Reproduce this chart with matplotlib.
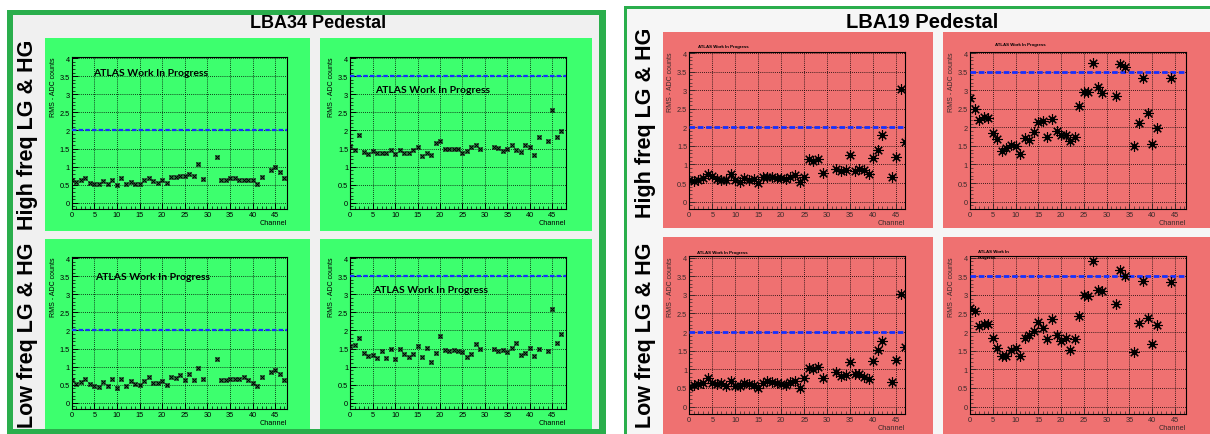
import numpy as np
import matplotlib
matplotlib.use("Agg")
import matplotlib.pyplot as plt
from matplotlib.patches import Rectangle
from matplotlib.ticker import MultipleLocator

plt.rcParams['font.family'] = ['Liberation Sans', 'DejaVu Sans']

# ---------------- data ----------------
channels = list(range(48))
N = None

lba34_high_lg = [0.64, 0.59, 0.64, 0.68, 0.54, 0.52, 0.52, 0.61, 0.51, 0.64, 0.48, 0.69,
                 0.51, 0.59, 0.52, 0.51, 0.64, 0.68, 0.60, 0.55, 0.64, 0.54, 0.71, 0.71,
                 0.74, 0.73, 0.80, 0.74, 1.08, 0.65, N, N, 1.26, 0.63, 0.64, 0.70,
                 0.68, 0.64, 0.64, 0.64, 0.64, 0.52, 0.71, N, 0.92, 1.00, 0.84, 0.69]
lba34_high_hg = [1.57, 1.45, 1.88, 1.41, 1.35, 1.42, 1.38, 1.39, 1.37, 1.46, 1.35, 1.47,
                 1.39, 1.39, 1.47, 1.55, 1.29, 1.38, 1.31, 1.66, 1.72, 1.48, 1.48, 1.48,
                 1.48, 1.39, 1.43, 1.54, 1.59, 1.48, N, N, 1.55, 1.51, 1.44, 1.50,
                 1.60, 1.46, 1.40, 1.61, 1.55, 1.33, 1.81, N, 1.70, 2.58, 1.83, 1.98]
lba34_low_lg = [0.63, 0.53, 0.58, 0.67, 0.53, 0.46, 0.44, 0.59, 0.47, 0.66, 0.40, 0.66,
                0.46, 0.61, 0.51, 0.48, 0.60, 0.71, 0.55, 0.56, 0.60, 0.50, 0.72, 0.70,
                0.78, 0.64, 0.79, 0.64, 0.97, 0.67, N, N, 1.21, 0.62, 0.64, 0.67,
                0.66, 0.66, 0.71, 0.64, 0.55, 0.46, 0.71, N, 0.86, 0.90, 0.81, 0.64]
lba34_low_hg = [1.56, 1.60, 1.78, 1.38, 1.29, 1.32, 1.23, 1.43, 1.24, 1.49, 1.20, 1.50,
                1.36, 1.27, 1.36, 1.57, 1.26, 1.52, 1.12, 1.38, 1.85, 1.45, 1.44, 1.47,
                1.43, 1.41, 1.28, 1.35, 1.63, 1.49, N, N, 1.49, 1.42, 1.47, 1.41,
                1.51, 1.66, 1.33, 1.38, 1.53, 1.29, 1.49, N, 1.44, 2.60, 1.65, 1.90]

lba19_high_lg = [0.57, 0.55, 0.57, 0.63, 0.73, 0.68, 0.62, 0.57, 0.58, 0.73, 0.57, 0.54,
                 0.63, 0.57, 0.61, 0.49, 0.66, 0.65, 0.65, 0.64, 0.64, 0.61, 0.65, 0.72,
                 0.52, 0.67, 1.14, 1.10, 1.15, 0.77, N, N, 0.88, 0.81, 0.85, 1.26,
                 0.81, 0.89, 0.86, 0.74, 1.17, 1.39, 1.78, N, 0.65, 1.19, 3.02, 1.61]
lba19_high_hg = [2.78, 2.49, 2.20, 2.27, 2.24, 1.85, 1.69, 1.35, 1.43, 1.52, 1.50, 1.29,
                 1.71, 1.67, 1.87, 2.14, 2.18, 1.75, 2.22, 1.90, 1.79, 1.78, 1.63, 1.75,
                 2.57, 2.96, 2.94, 3.73, 3.09, 2.92, N, N, 2.83, 3.71, 3.63, N,
                 1.49, 2.11, 3.33, 2.39, 1.55, 1.97, N, N, 3.32, N, N, N]
lba19_low_lg = [0.52, 0.57, 0.61, 0.62, 0.76, 0.63, 0.60, 0.62, 0.55, 0.68, 0.56, 0.56,
                0.63, 0.60, 0.59, 0.51, 0.62, 0.69, 0.67, 0.63, 0.61, 0.59, 0.65, 0.69,
                0.49, 0.76, 1.04, 1.00, 1.07, 0.78, N, N, 0.94, 0.83, 0.86, 1.19,
                0.87, 0.87, 0.80, 0.74, 1.21, 1.52, 1.75, N, 0.65, 1.26, 3.01, 1.60]
lba19_low_hg = [2.65, 2.56, 2.17, 2.23, 2.23, 1.84, 1.58, 1.37, 1.35, 1.53, 1.57, 1.36,
                1.84, 1.91, 2.03, 2.27, 2.10, 1.81, 2.34, 1.92, 1.77, 1.83, 1.53, 1.81,
                2.44, 2.99, 2.98, 3.91, 3.13, 3.09, N, N, 2.75, 3.68, 3.51, N,
                1.47, 2.25, 3.36, 2.38, 1.67, 2.18, N, N, 3.35, N, N, N]

thresholds = {"LG": 2.0, "HG": 3.5}
panel_titles = ["LBA34 Pedestal", "LBA19 Pedestal"]
row_labels = ["High freq LG & HG", "Low freq LG & HG"]
y_ticks = [0, 0.5, 1, 1.5, 2, 2.5, 3, 3.5, 4]
x_ticks = [0, 5, 10, 15, 20, 25, 30, 35, 40, 45]
wip_text = "ATLAS Work In Progress"

# ---------------- layout ----------------
W, H = 1210, 435
fig = plt.figure(figsize=(W / 100, H / 100), dpi=100)
fig.patch.set_facecolor('white')

def rect(x0, y0, x1, y1, color, z=-5):
    fig.add_artist(Rectangle((x0 / W, 1 - y1 / H), (x1 - x0) / W, (y1 - y0) / H,
                             transform=fig.transFigure, facecolor=color,
                             edgecolor='none', zorder=z))

def px_axes(l, t, r, b):
    return fig.add_axes([l / W, 1 - b / H, (r - l) / W, (b - t) / H])

# left panel frame
rect(7, 11, 606, 435, '#2aae4c', -10)
rect(13, 16, 599, 430, '#f0f0f0', -9)
# right panel frame
rect(624, 7, 1210, 435, '#2aae4c', -10)
rect(627, 10, 1210, 435, '#f6f6f6', -9)

GREEN = '#3dff6e'
RED = '#ef7171'
rect(45, 39, 310, 232, GREEN)
rect(320, 39, 592, 232, GREEN)
rect(45, 240, 310, 430, GREEN)
rect(320, 240, 592, 430, GREEN)
rect(663, 33, 933, 229, RED)
rect(943, 33, 1210, 229, RED)
rect(663, 238, 933, 435, RED)
rect(943, 238, 1210, 435, RED)

fig.text(318 / W, 1 - 24 / H, panel_titles[0], ha='center', va='center',
         fontsize=13, fontweight='bold')
fig.text(922 / W, 1 - 22 / H, panel_titles[1], ha='center', va='center',
         fontsize=14.5, fontweight='bold')

fig.text(28 / W, 1 - 135 / H, row_labels[0], rotation=90, ha='center', va='center',
         fontsize=15.5, fontweight='bold')
fig.text(28 / W, 1 - 335 / H, row_labels[1], rotation=90, ha='center', va='center',
         fontsize=15.5, fontweight='bold')
fig.text(646 / W, 1 - 123 / H, row_labels[0], rotation=90, ha='center', va='center',
         fontsize=15.5, fontweight='bold')
fig.text(646 / W, 1 - 335 / H, row_labels[1], rotation=90, ha='center', va='center',
         fontsize=15.5, fontweight='bold')

def root_axes(box, ylim, xmax, values, thr, small, tcol='black'):
    ax = px_axes(*box)
    ax.set_facecolor('none')
    ax.set_xlim(0, xmax)
    ax.set_ylim(*ylim)
    ax.set_xticks(x_ticks)
    ax.set_yticks(y_ticks)
    ax.set_yticklabels([f"{v:g}" for v in y_ticks])
    ax.xaxis.set_minor_locator(MultipleLocator(1))
    ax.yaxis.set_minor_locator(MultipleLocator(0.1))
    ax.tick_params(which='major', direction='in', length=4, width=0.7,
                   labelsize=5.3, pad=1.5, colors=tcol, labelcolor=tcol)
    ax.tick_params(which='minor', direction='in', length=2, width=0.5, colors=tcol)
    ax.grid(True, which='major', color='black', linestyle=(0, (1, 1.5)), linewidth=0.6)
    for s in ax.spines.values():
        s.set_linewidth(0.8)
    ax.set_ylabel("RMS - ADC counts", fontsize=5, loc='top', labelpad=2, color=tcol)
    ax.set_xlabel("Channel", fontsize=5.3, loc='right', labelpad=1, color=tcol)
    vals = np.array(values, dtype=float)
    ax.axhline(thr, color='#1530ff', linestyle=(0, (2, 1)),
               linewidth=2.0 if small else 1.6, zorder=3)
    if small:
        ax.plot(channels, vals, linestyle='none', marker=(8, 2, 0), ms=7.5,
                mec='black', mew=0.8, zorder=4)
        ax.plot(channels, vals, linestyle='none', marker='s', ms=2.6,
                mfc='black', mec='black', mew=0.4, zorder=4)
    else:
        ax.plot(channels, vals, linestyle='none', marker='x', ms=3.4,
                mec='black', mew=0.8, zorder=4)
        ax.plot(channels, vals, linestyle='none', marker='s', ms=3.4,
                mfc='none', mec='#222222', mew=0.4, zorder=4)
    return ax

# LBA34 (green)
yl34 = (-0.17, 4.04)
a = root_axes((71.7, 57.7, 286.7, 210), yl34, 47.5, lba34_high_lg, thresholds["LG"], False)
a.text(4.7, 3.59, wip_text, fontsize=7.5, fontweight='bold', family='Lato', va='center')
a = root_axes((350.3, 57.7, 565.7, 210), yl34, 48, lba34_high_hg, thresholds["HG"], False)
a.text(5.5, 3.12, wip_text, fontsize=7.5, fontweight='bold', family='Lato', va='center')
a = root_axes((71.7, 257.7, 286.7, 410), yl34, 47.5, lba34_low_lg, thresholds["LG"], False)
a.text(5.1, 3.48, wip_text, fontsize=7.5, fontweight='bold', family='Lato', va='center')
a = root_axes((350.3, 257.7, 565.7, 410), yl34, 48, lba34_low_hg, thresholds["HG"], False)
a.text(5.1, 3.14, wip_text, fontsize=7.5, fontweight='bold', family='Lato', va='center')

# LBA19 (red)
yl19 = (-0.2, 4.035)
tc = '#3a2a2a'
root_axes((689.3, 52.7, 905.3, 210), yl19, 47, lba19_high_lg, thresholds["LG"], True, tc)
root_axes((970, 52.7, 1186, 210), yl19, 47.4, lba19_high_hg, thresholds["HG"], True, tc)
root_axes((689.3, 257.3, 905.3, 415), yl19, 47, lba19_low_lg, thresholds["LG"], True, tc)
root_axes((970, 257.3, 1186, 415), yl19, 47.4, lba19_low_hg, thresholds["HG"], True, tc)

fig.text(698 / W, 1 - 47 / H, wip_text, fontsize=3.2, fontweight='bold', va='center')
fig.text(995 / W, 1 - 45 / H, wip_text, fontsize=3.2, fontweight='bold', va='center')
fig.text(697 / W, 1 - 253 / H, wip_text, fontsize=3.2, fontweight='bold', va='center')
fig.text(978 / W, 1 - 252 / H, "ATLAS Work In", fontsize=3.2, fontweight='bold', va='center')
fig.text(978 / W, 1 - 258 / H, "Progress", fontsize=3.2, fontweight='bold', va='center')

fig.savefig("out.png", dpi=100)
